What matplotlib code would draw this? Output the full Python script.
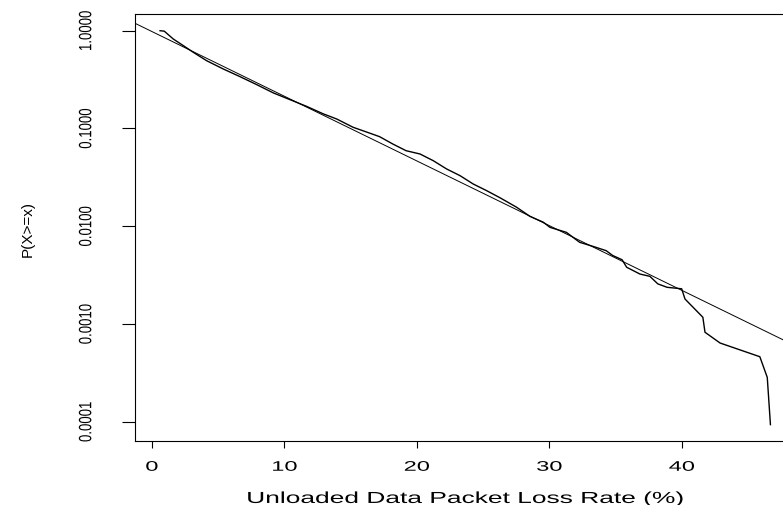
import numpy as np
import matplotlib
matplotlib.use('Agg')
import matplotlib.pyplot as plt
from matplotlib.patheffects import AbstractPathEffect
from matplotlib.transforms import Affine2D

loss_rate = [0.63, 0.95, 1.63, 2.39, 3.14, 4.15, 5.4, 6.66, 7.92, 9.18,
             10.44, 11.7, 12.95, 13.96, 15.2, 16.5, 17.2, 18.2, 19.2, 20.25,
             21.25, 22.26, 23.27, 24.27, 25.28, 26.3, 27.55, 28.55, 29.55, 30.06,
             31.3, 32.3, 33.3, 34.3, 34.8, 35.5, 35.85, 36.85, 37.6, 38.2,
             38.9, 40.0, 40.25, 41.6, 41.76, 42.9, 45.9, 46.46, 46.7]
ccdf = [1.0, 0.989, 0.822, 0.703, 0.601, 0.493, 0.406, 0.339, 0.281, 0.231,
        0.197, 0.168, 0.141, 0.125, 0.1028, 0.0891, 0.0824, 0.0693, 0.0592, 0.0548,
        0.0468, 0.0385, 0.0329, 0.0270, 0.0231, 0.0195, 0.0156, 0.0126, 0.0110, 0.00973,
        0.00865, 0.00684, 0.00622, 0.00562, 0.00501, 0.00454, 0.00380, 0.00324, 0.00307, 0.00257,
        0.00237, 0.00229, 0.00180, 0.00117, 0.000822, 0.000638, 0.000462, 0.000284, 0.0000933]

# exponential fit: log10 P = fit_a + fit_b * x
fit_a = -0.0075
fit_b = -0.0662

x_ticks = [0, 10, 20, 30, 40]
y_ticks = [1.0, 0.1, 0.01, 0.001, 0.0001]
y_tick_labels = ['1.0000', '0.1000', '0.0100', '0.0010', '0.0001']

plt.rcParams['font.family'] = ['Liberation Sans', 'DejaVu Sans']


class Widen(AbstractPathEffect):
    # the reference text looks stretched sideways on screen, so widen the glyphs
    def __init__(self, sx):
        super().__init__()
        self.sx = sx

    def draw_path(self, renderer, gc, tpath, affine, rgbFace=None):
        v = tpath.vertices
        if len(v):
            pts = affine.transform(v)
            cx = (pts[:, 0].min() + pts[:, 0].max()) / 2
            affine = affine + Affine2D().translate(-cx, 0).scale(self.sx, 1).translate(cx, 0)
        renderer.draw_path(gc, tpath, affine, rgbFace)


fig = plt.figure(figsize=(7.83, 5.06), dpi=100)
# axes runs past the right edge of the picture, like the cropped original
ax = fig.add_axes([0.17241, 0.12648, 0.8437, 0.84387])

ax.plot(loss_rate, ccdf, color='black', lw=1.0)
ax.axline((0, 10 ** fit_a), (40, 10 ** (fit_a + 40 * fit_b)), color='black', lw=0.7)

ax.set_yscale('log')
ax.set_xlim(-1.26, 48.6)
ax.set_ylim(10 ** -4.1975, 10 ** 0.1708)

ax.set_yticks(y_ticks, y_tick_labels)
ax.yaxis.set_minor_locator(matplotlib.ticker.NullLocator())
ax.set_xticks(x_ticks, [str(t) for t in x_ticks])

ax.tick_params(axis='x', direction='out', length=5, width=0.8, pad=8.5, labelsize=10)
ax.tick_params(axis='y', direction='out', length=9.5, width=0.8, pad=21, labelsize=9.5,
               labelrotation=90)
for lab in ax.get_yticklabels():
    lab.set_va('center')
    lab.set_path_effects([Widen(1.35)])

for lab in ax.get_xticklabels():
    lab.set_path_effects([Widen(1.7)])

for s in ax.spines.values():
    s.set_linewidth(0.8)

ax.set_xlabel('Unloaded Data Packet Loss Rate (%)', fontsize=11.5)
ax.xaxis.label.set_path_effects([Widen(1.65)])
ax.xaxis.set_label_coords(0.5, -0.117)
ax.set_ylabel('P(X>=x)', fontsize=11)
ax.yaxis.set_label_coords(-0.152, 0.5)

plt.savefig('out.png', dpi=100)
plt.close()
